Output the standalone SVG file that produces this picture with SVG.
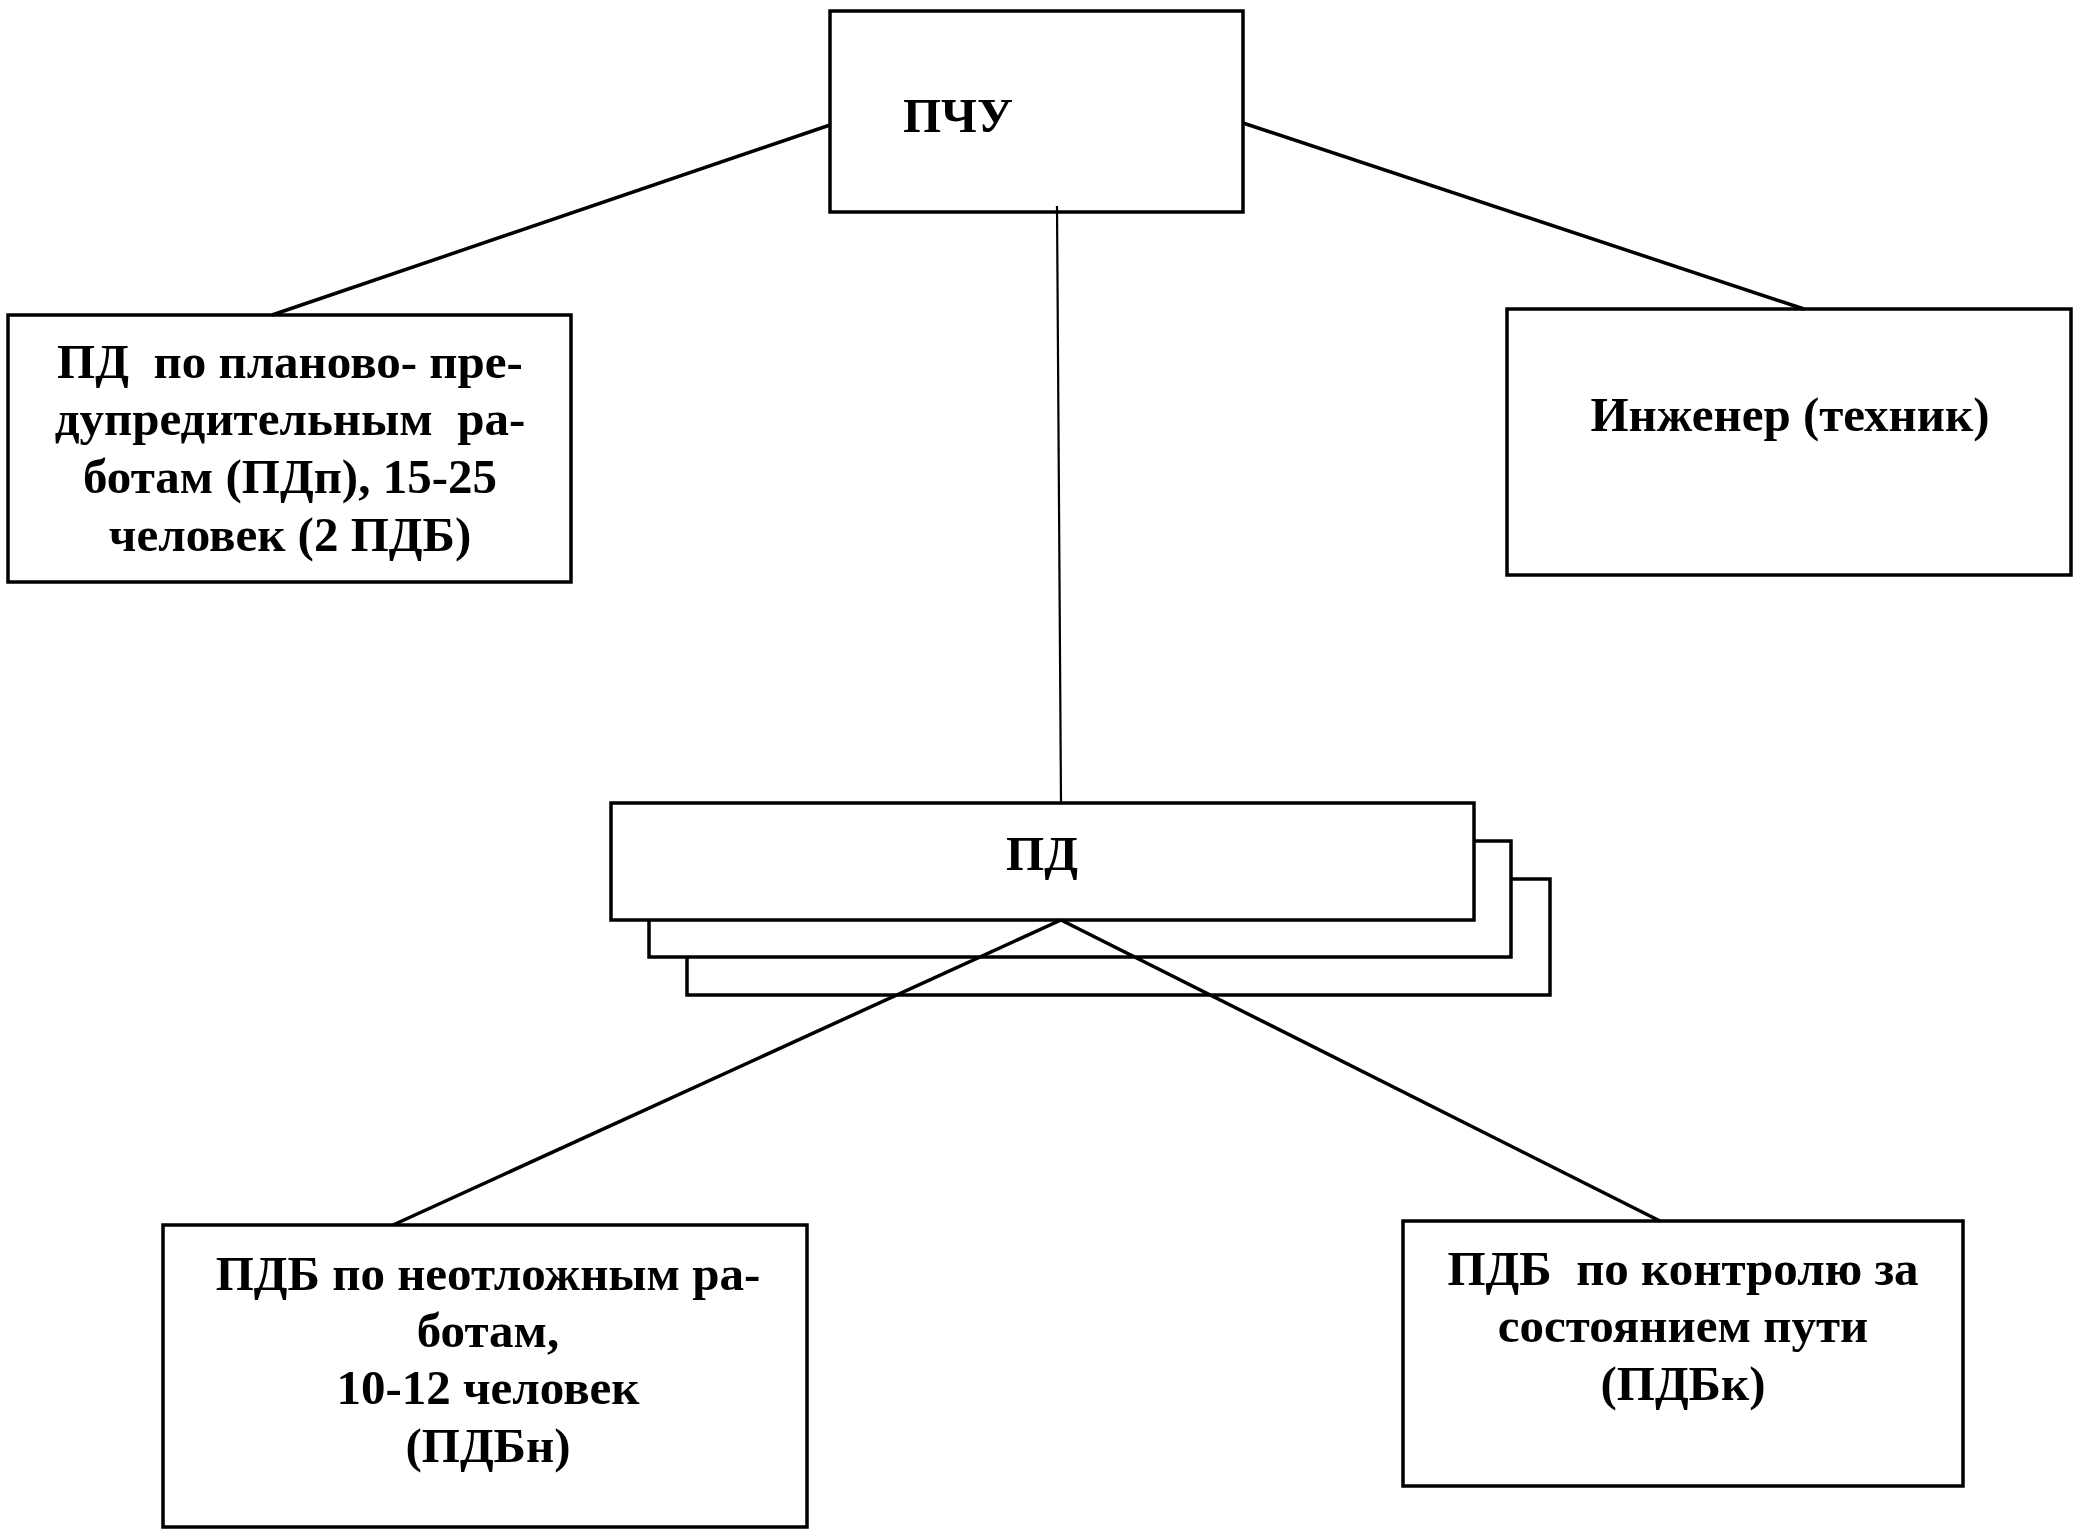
<svg xmlns="http://www.w3.org/2000/svg" width="2082" height="1540" viewBox="0 0 2082 1540">
<style>
.box{fill:#fff;stroke:#000;stroke-width:3.5}
.ln{stroke:#000;stroke-width:3.5;fill:none}
.thin{stroke:#000;stroke-width:2.2;fill:none}
.t{font-family:"Liberation Serif","Times New Roman",serif;font-weight:bold;font-size:49px;fill:#000;text-anchor:middle;white-space:pre}
</style>
<rect width="2082" height="1540" fill="#fff"/>
<g id="node-pchu">
<rect class="box" x="830" y="11" width="413" height="201"/>
<text class="t" x="958" y="132">ПЧУ</text>
</g>
<g id="node-pdp">
<rect class="box" x="8" y="315" width="563" height="267"/>
<text class="t" x="290" y="378">ПД  по планово- пре-</text>
<text class="t" x="290" y="435">дупредительным  ра-</text>
<text class="t" x="290" y="493">ботам (ПДп), 15-25</text>
<text class="t" x="290" y="551">человек (2 ПДБ)</text>
</g>
<g id="node-engineer">
<rect class="box" x="1507" y="309" width="564" height="266"/>
<text class="t" x="1790" y="431">Инженер (техник)</text>
</g>
<g id="node-pd">
<rect class="box" x="687" y="879" width="863" height="116"/>
<rect class="box" x="649" y="841" width="862" height="116"/>
<rect class="box" x="611" y="803" width="863" height="117"/>
<text class="t" x="1042" y="870">ПД</text>
</g>
<g id="node-pdbn">
<rect class="box" x="163" y="1225" width="644" height="302"/>
<text class="t" x="488" y="1290">ПДБ по неотложным ра-</text>
<text class="t" x="488" y="1347">ботам,</text>
<text class="t" x="488" y="1404">10-12 человек</text>
<text class="t" x="488" y="1462">(ПДБн)</text>
</g>
<g id="node-pdbk">
<rect class="box" x="1403" y="1221" width="560" height="265"/>
<text class="t" x="1683" y="1285">ПДБ  по контролю за</text>
<text class="t" x="1683" y="1342">состоянием пути</text>
<text class="t" x="1683" y="1400">(ПДБк)</text>
</g>
<g id="connectors">
<line class="ln" x1="830" y1="125" x2="272" y2="315"/>
<line class="ln" x1="1243" y1="123" x2="1804" y2="309"/>
<line class="thin" x1="1057" y1="206" x2="1061" y2="803"/>
<line class="ln" x1="1061" y1="920" x2="393" y2="1225"/>
<line class="ln" x1="1061" y1="920" x2="1660" y2="1221"/>
</g>
</svg>
